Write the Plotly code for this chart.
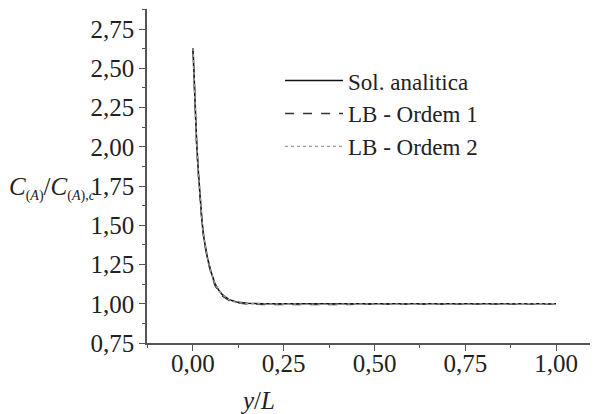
import plotly.graph_objects as go

x_vals = [0.0, 0.005, 0.01, 0.015, 0.02, 0.025, 0.03, 0.04, 0.05, 0.06, 0.07,
          0.08, 0.10, 0.12, 0.15, 0.20, 0.30, 0.40, 0.50, 0.60, 0.70, 0.80, 0.90, 1.00]
sol_analitica = [2.63, 2.31, 2.03, 1.83, 1.66, 1.52, 1.42, 1.29, 1.20, 1.13, 1.09,
                 1.06, 1.025, 1.011, 1.003, 1.0, 1.0, 1.0, 1.0, 1.0, 1.0, 1.0, 1.0, 1.0]
lb_ordem1 = [2.63, 2.30, 2.02, 1.82, 1.65, 1.51, 1.41, 1.28, 1.19, 1.12, 1.08,
             1.05, 1.02, 1.006, 0.998, 0.995, 0.995, 0.996, 0.997, 0.998, 0.998, 0.999, 0.999, 0.999]
lb_ordem2 = [2.63, 2.31, 2.03, 1.83, 1.66, 1.52, 1.42, 1.29, 1.20, 1.13, 1.09,
             1.06, 1.024, 1.009, 1.0, 0.998, 0.998, 0.998, 0.999, 0.999, 0.999, 1.0, 1.0, 1.0]

y_tickvals = [0.75, 1.00, 1.25, 1.50, 1.75, 2.00, 2.25, 2.50, 2.75]
y_ticklabels = ["0,75", "1,00", "1,25", "1,50", "1,75", "2,00", "2,25", "2,50", "2,75"]
x_tickvals = [0.0, 0.25, 0.5, 0.75, 1.0]
x_ticklabels = ["0,00", "0,25", "0,50", "0,75", "1,00"]

FONT = "Liberation Serif"
FS = 25

fig = go.Figure()
fig.add_trace(go.Scatter(x=x_vals, y=sol_analitica, mode="lines", name="Sol. analitica",
                         line=dict(color="#111111", width=1.6)))
fig.add_trace(go.Scatter(x=x_vals, y=lb_ordem1, mode="lines", name="LB - Ordem 1",
                         line=dict(color="#333333", width=1.4, dash="dash")))
fig.add_trace(go.Scatter(x=x_vals, y=lb_ordem2, mode="lines", name="LB - Ordem 2",
                         line=dict(color="#999999", width=1.4, dash="dot")))

axis_common = dict(showline=True, linecolor="#555555", linewidth=1.5, showgrid=False,
                   zeroline=False, ticks="outside", tickcolor="#555555", tickwidth=1.3,
                   ticklen=6, tickfont=dict(family=FONT, size=FS),
                   minor=dict(ticks="outside", ticklen=3, tickcolor="#555555", tickwidth=1.2))

fig.update_xaxes(range=[-0.1267, 1.1157], tickvals=x_tickvals, ticktext=x_ticklabels,
                 minor_dtick=0.125, minor_tick0=0.125, ticklabelstandoff=-9, **axis_common)
fig.update_yaxes(range=[0.75, 2.878], tickvals=y_tickvals, ticktext=y_ticklabels,
                 minor_dtick=0.125, minor_tick0=0.125, **axis_common)

fig.add_annotation(xref="paper", yref="paper", x=0.246, y=-0.171,
                   text="<i>y</i>/<i>L</i>", showarrow=False,
                   xanchor="center", yanchor="middle",
                   font=dict(family=FONT, size=FS))
sub = '<span style="font-size:14px">'
fig.add_annotation(xref="paper", yref="paper", x=-0.310, y=0.464,
                   text=("<i>C</i><sub>" + sub + "(<i>A</i>)</span></sub>/<i>C</i><sub>" + sub
                         + "(<i>A</i>),<i>c</i></span></sub>"),
                   showarrow=False, xanchor="left", yanchor="middle",
                   font=dict(family=FONT, size=FS))

fig.update_layout(
    width=590, height=406,
    margin=dict(l=139, r=0, t=1, b=71),
    font=dict(family=FONT, size=FS, color="#222222"),
    paper_bgcolor="white", plot_bgcolor="white",
    showlegend=True,
    legend=dict(x=0.295, y=0.85, xanchor="left", yanchor="top",
                bgcolor="rgba(0,0,0,0)", font=dict(family=FONT, size=23),
                itemwidth=58),
)

fig.write_html("out.html")
